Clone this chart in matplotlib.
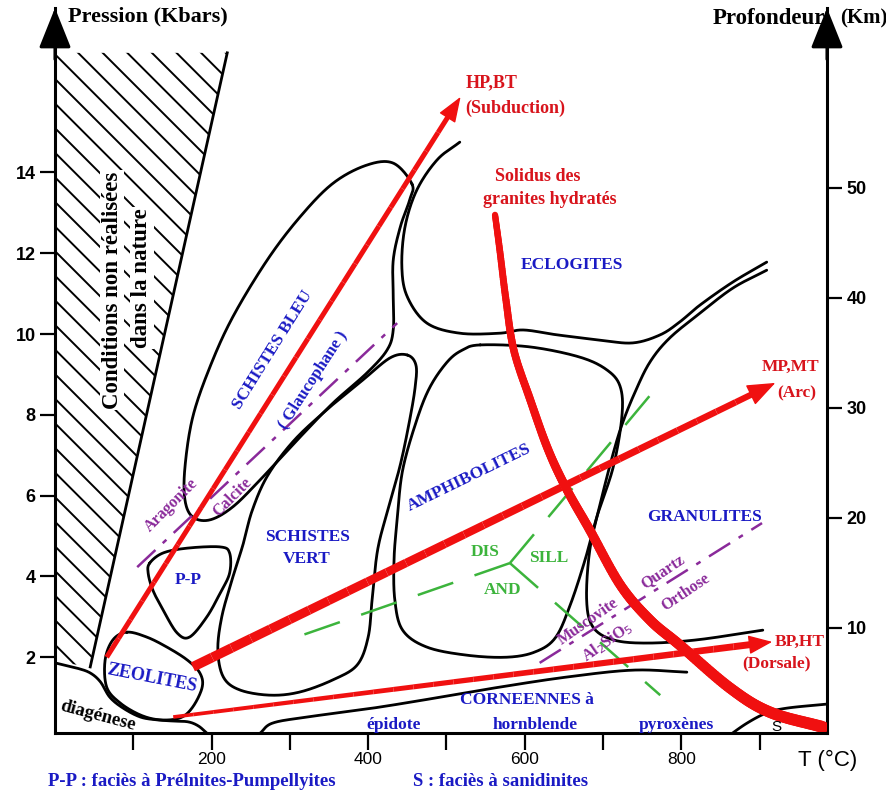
import numpy as np
import matplotlib.pyplot as plt
from matplotlib.collections import LineCollection
from matplotlib.patches import Polygon

plt.rcParams['font.family'] = ['Liberation Sans', 'DejaVu Sans']

# ---- data (T in degC, P in kbar) ----
KM_PER_KBAR = 3.67
P_TICKS = [2, 4, 6, 8, 10, 12, 14]
KM_TICKS = [10, 20, 30, 40, 50]
T_TICKS = [100, 200, 300, 400, 500, 600, 700, 800, 900]
T_LABELS = ['', '200', '', '400', '', '600', '', '800', '']

hatch_edge_T = [220, 45]
hatch_edge_P = [16.96, 1.76]

zeolites_T = [92, 74, 64, 66, 83, 109, 134, 160, 176, 188, 185, 169, 143, 117]
zeolites_P = [2.62, 2.43, 1.93, 1.26, 0.87, 0.57, 0.45, 0.50, 0.77, 1.26, 1.61, 1.93, 2.25, 2.50]

pp_T = [121, 138, 169, 211, 223, 223, 211, 194, 172, 156, 138, 125, 119]
pp_P = [4.33, 4.58, 4.70, 4.73, 4.58, 4.08, 3.59, 3.00, 2.50, 2.60, 3.17, 3.66, 4.08]

bleu_T = [456, 432, 398, 355, 313, 271, 227, 198, 176, 166, 166, 176, 198, 227,
          262, 313, 355, 398, 424, 432, 432, 432, 441, 453]
bleu_P = [13.71, 14.23, 14.18, 13.73, 12.90, 11.83, 10.42, 9.19, 7.95, 6.71, 5.89, 5.47,
          5.40, 5.72, 6.39, 7.45, 8.29, 9.03, 9.60, 10.10, 10.92, 11.83, 12.65, 13.32]

vert_T = [450, 428, 393, 351, 306, 272, 252, 240, 226, 213, 208, 215, 236, 275, 313,
          355, 386, 400, 405, 412, 425, 441, 453, 460, 461]
vert_P = [9.48, 9.41, 8.86, 8.19, 7.38, 6.51, 5.64, 4.78, 3.91, 3.00, 2.18, 1.51, 1.19,
          1.06, 1.14, 1.44, 1.81, 2.50, 3.42, 4.65, 5.64, 6.76, 7.87, 8.69, 9.23]

amph_T = [543, 607, 670, 705, 722, 724, 713, 692, 677, 658, 639, 613, 577, 526, 475,
          444, 434, 433, 437, 444, 462, 479, 501, 520]
amph_P = [9.73, 9.68, 9.43, 9.11, 8.69, 7.95, 6.71, 5.47, 4.41, 3.29, 2.48, 2.13, 2.00,
          2.05, 2.25, 2.67, 3.42, 4.41, 5.40, 6.63, 7.87, 8.69, 9.31, 9.60]

eclog_T = [517, 488, 462, 447, 443, 450, 475, 517, 568, 598, 641, 696, 738, 773, 798,
           824, 866, 909]
eclog_P = [14.75, 14.31, 13.56, 12.65, 11.66, 10.92, 10.27, 10.02, 10.02, 10.10, 9.98,
           9.85, 9.78, 9.98, 10.30, 10.72, 11.29, 11.78]

granul_T = [909, 866, 824, 785, 760, 741, 724, 711, 696, 683, 679, 687, 713, 756, 820, 904]
granul_P = [11.58, 11.14, 10.52, 9.90, 9.31, 8.57, 7.75, 6.91, 5.77, 4.65, 3.42, 2.75,
            2.43, 2.35, 2.43, 2.67]

diag_T = [0, 28, 45, 58, 70, 87, 109, 130, 151, 170, 183, 194]
diag_P = [1.86, 1.73, 1.61, 1.39, 1.01, 0.74, 0.52, 0.45, 0.42, 0.40, 0.30, 0.12]

corn_T = [262, 278, 322, 406, 492, 568, 654, 738, 807]
corn_P = [0.12, 0.37, 0.52, 0.74, 1.01, 1.26, 1.51, 1.68, 1.63]

sanid_T = [858, 884, 909, 935, 986]
sanid_P = [0.02, 0.37, 0.62, 0.74, 0.84]

solidus_T = [562, 568, 576, 586, 607, 630, 654, 683, 722, 760, 798, 862, 913, 981]
solidus_P = [12.95, 12.08, 10.84, 9.60, 8.37, 7.13, 6.14, 5.15, 3.79, 2.92, 2.30, 1.24,
             0.64, 0.27]

arag_T = [105, 437]
arag_P = [4.23, 10.27]
musc_T = [619, 903]
musc_P = [1.86, 5.32]

triple = (581, 4.33)
ky_and_end = (309, 2.50)
ky_sill_end = (769, 8.69)
and_sill_end = (773, 1.06)

# gradients: start (T, P), tip (T, P)
hp_bt = [(66, 2.00), (518, 15.87)]
mp_mt = [(176, 1.76), (920, 8.79)]
bp_ht = [(151, 0.52), (916, 2.38)]

RED = '#f01010'
RED_TXT = '#d8141c'
BLUE = '#1a1ac4'
PURPLE = '#8a2a9a'
GREEN = '#3cb43c'
SERIF = 'Liberation Serif'


def smooth(t, p, closed=False, n=24):
    pts = np.column_stack([t, p]).astype(float)
    if closed:
        pts = np.vstack([pts[-1], pts, pts[0], pts[1]])
    else:
        pts = np.vstack([2 * pts[0] - pts[1], pts, 2 * pts[-1] - pts[-2]])
    s = np.linspace(0, 1, n, endpoint=False)[:, None]
    out = []
    for i in range(1, len(pts) - 2):
        p0, p1, p2, p3 = pts[i - 1], pts[i], pts[i + 1], pts[i + 2]
        out.append(0.5 * (2 * p1 + (p2 - p0) * s + (2 * p0 - 5 * p1 + 4 * p2 - p3) * s ** 2
                          + (3 * p1 - p0 - 3 * p2 + p3) * s ** 3))
    out.append(pts[-2][None])
    return np.vstack(out)


fig = plt.figure(figsize=(8.87, 7.96), dpi=100)
ax = fig.add_axes([55 / 887, 63 / 796, 772 / 887, 725 / 796])
ax.set_xlim(0, 986)
ax.set_ylim(0.124, 18.07)

for s in ['top', 'right']:
    ax.spines[s].set_visible(False)
ax.spines['left'].set_linewidth(2.2)
ax.spines['bottom'].set_linewidth(2.2)

ax.set_yticks(P_TICKS)
ax.set_xticks(T_TICKS)
ax.set_xticklabels(T_LABELS)
ax.tick_params(axis='y', direction='out', length=11, width=1.6, labelsize=13, pad=3)
ax.tick_params(axis='x', direction='out', length=12, width=1.6, labelsize=12.5, pad=2)
for lbl in ax.get_yticklabels():
    lbl.set_fontweight('bold')

sec = ax.secondary_yaxis('right', functions=(lambda p: p * KM_PER_KBAR,
                                             lambda d: d / KM_PER_KBAR))
sec.set_yticks(KM_TICKS)
sec.spines['right'].set_linewidth(2.2)
sec.tick_params(direction='out', length=11, width=1.6, labelsize=13, pad=3)
for lbl in sec.get_yticklabels():
    lbl.set_fontweight('bold')

# axis arrow heads
for x in (0, 986):
    ax.annotate('', xy=(x, 18.07), xytext=(x, 16.8), annotation_clip=False,
                arrowprops=dict(arrowstyle='-|>,head_length=25,head_width=10',
                                mutation_scale=1, color='black', lw=2.2,
                                shrinkA=0, shrinkB=0))

# hatched area
poly = Polygon(np.column_stack([[0] + hatch_edge_T + [0], [16.96] + hatch_edge_P + [1.9]]),
               closed=True, facecolor='none', edgecolor='none')
ax.add_patch(poly)
bb = ax.get_position()
w_px = bb.width * fig.get_figwidth() * fig.dpi
h_px = bb.height * fig.get_figheight() * fig.dpi
k = w_px / h_px
for c in np.arange(0.02, 1.4, 24.6 / h_px):
    ln, = ax.plot([0, 0.4], [c, c - 0.4 * k], transform=ax.transAxes, color='black', lw=1.4)
    ln.set_clip_path(poly)
ax.plot(hatch_edge_T, hatch_edge_P, color='black', lw=2)

# facies boundaries
for t, p, closed in [(zeolites_T, zeolites_P, True), (pp_T, pp_P, True),
                     (bleu_T, bleu_P, True), (vert_T, vert_P, True),
                     (amph_T, amph_P, True), (eclog_T, eclog_P, False),
                     (granul_T, granul_P, False), (diag_T, diag_P, False),
                     (corn_T, corn_P, False), (sanid_T, sanid_P, False)]:
    xy = smooth(t, p, closed)
    ax.plot(xy[:, 0], xy[:, 1], color='black', lw=2.0, solid_capstyle='round')

# reaction lines
ax.plot(arag_T, arag_P, color=PURPLE, lw=1.8, linestyle=(0, (10, 4, 2, 4)))
ax.plot(musc_T, musc_P, color=PURPLE, lw=1.8, linestyle=(0, (10, 4, 2, 4)))
for end in (ky_and_end, ky_sill_end, and_sill_end):
    ax.plot([triple[0], end[0]], [triple[1], end[1]], color=GREEN, lw=1.8,
            linestyle=(0, (15, 9)))

# solidus (thickening downward)
xy = smooth(solidus_T, solidus_P, n=20)
segs = np.stack([xy[:-1], xy[1:]], axis=1)
lc = LineCollection(segs, colors=RED, linewidths=np.linspace(4.5, 8.5, len(segs)),
                    capstyle='round')
ax.add_collection(lc)


def gradient_arrow(start, tip, w0, w1, head_len, head_w):
    a = ax.transData.transform(start)
    b = ax.transData.transform(tip)
    length = np.hypot(*(b - a))
    f = 1 - head_len / 0.72 / length * 0.9
    base = (start[0] + f * (tip[0] - start[0]), start[1] + f * (tip[1] - start[1]))
    s = np.linspace(0, 1, 30)
    pts = np.column_stack([start[0] + s * (base[0] - start[0]),
                           start[1] + s * (base[1] - start[1])])
    segs = np.stack([pts[:-1], pts[1:]], axis=1)
    ax.add_collection(LineCollection(segs, colors=RED,
                                     linewidths=np.linspace(w0, w1, len(segs)),
                                     capstyle='butt'))
    ax.annotate('', xy=tip, xytext=base,
                arrowprops=dict(arrowstyle=f'-|>,head_length={head_len},head_width={head_w}',
                                mutation_scale=1, color=RED, lw=1, shrinkA=0, shrinkB=0))


gradient_arrow(*hp_bt, 3.6, 3.6, 16, 6)
gradient_arrow(*mp_mt, 7.0, 4.5, 18, 7)
gradient_arrow(*bp_ht, 2.6, 5.0, 15, 6)


def label(t, p, s, color, size=12.5, rot=0, ha='center', **kw):
    ax.text(t, p, s, color=color, fontsize=size, rotation=rot, ha=ha, va='center',
            rotation_mode='anchor', family=SERIF, fontweight='bold', **kw)


# red labels
label(524, 16.21, 'HP,BT', RED_TXT, 13, ha='left')
label(524, 15.59, '(Subduction)', RED_TXT, 13, ha='left')
label(617, 13.91, 'Solidus des', RED_TXT, 13)
label(632, 13.32, 'granites hydratés', RED_TXT, 13)
label(939, 9.18, 'MP,MT', RED_TXT, 12.5)
label(948, 8.54, '(Arc)', RED_TXT, 12.5)
label(951, 2.38, 'BP,HT', RED_TXT, 12.5)
label(922, 1.84, '(Dorsale)', RED_TXT, 12.5)

# facies names
label(660, 11.71, 'ECLOGITES', BLUE)
label(830, 5.47, 'GRANULITES', BLUE)
label(529, 6.44, 'AMPHIBOLITES', BLUE, rot=26)
label(278, 9.60, 'SCHISTES BLEU', BLUE, rot=58)
label(330, 8.86, '( Glaucophane )', BLUE, 12, rot=57)
label(322, 4.98, 'SCHISTES', BLUE)
label(322, 4.44, 'VERT', BLUE)
label(170, 3.91, 'P-P', BLUE)
label(123, 1.49, 'ZEOLITES', BLUE, 13, rot=-11)
label(603, 0.94, 'CORNEENNES à', BLUE)
label(613, 0.32, 'hornblende', BLUE)
label(432, 0.32, 'épidote', BLUE)
label(794, 0.32, 'pyroxènes', BLUE)
label(55, 0.56, 'diagénese', 'black', 13.5, rot=-15, clip_on=True)
ax.text(922, 0.27, 'S', fontsize=11, ha='center', va='center')

# reaction labels
label(149, 5.77, 'Aragonite', PURPLE, 11.5, rot=45)
label(226, 5.97, 'Calcite', PURPLE, 11.5, rot=45)
label(776, 4.11, 'Quartz', PURPLE, 11.5, rot=34)
label(806, 3.61, 'Orthose', PURPLE, 11.5, rot=34)
label(681, 2.87, 'Muscovite', PURPLE, 11.5, rot=35)
label(705, 2.38, 'Al$_2$SiO$_5$', PURPLE, 11.5, rot=35)
label(549, 4.60, 'DIS', GREEN, 12.5)
label(630, 4.46, 'SILL', GREEN, 12.5)
label(572, 3.66, 'AND', GREEN, 12.5)

# hatched zone caption
box = dict(facecolor='white', edgecolor='none', pad=1)
label(73, 11.09, 'Conditions non réalisées', 'black', 16.5, rot=90, bbox=box)
label(111, 11.39, 'dans la nature', 'black', 16.5, rot=90, bbox=box)

# axis titles and legend
fig.text(68 / 887, 1 - 16 / 796, 'Pression (Kbars)', family=SERIF, fontweight='bold',
         fontsize=16, ha='left', va='center')
fig.text(825 / 887, 1 - 18 / 796, 'Profondeur', family=SERIF, fontweight='bold',
         fontsize=16.5, ha='right', va='center')
fig.text(840 / 887, 1 - 18 / 796, '(Km)', family=SERIF, fontweight='bold',
         fontsize=15, ha='left', va='center')
fig.text(828 / 887, 1 - 760 / 796, 'T (°C)', fontsize=16, ha='center', va='center')
fig.text(48 / 887, 1 - 782 / 796, 'P-P : faciès à Prélnites-Pumpellyites', family=SERIF,
         fontweight='bold', fontsize=13.5, color=BLUE, ha='left', va='center')
fig.text(413 / 887, 1 - 782 / 796, 'S : faciès à sanidinites', family=SERIF,
         fontweight='bold', fontsize=13.5, color=BLUE, ha='left', va='center')

fig.savefig('out.png', dpi=100, facecolor='white')
